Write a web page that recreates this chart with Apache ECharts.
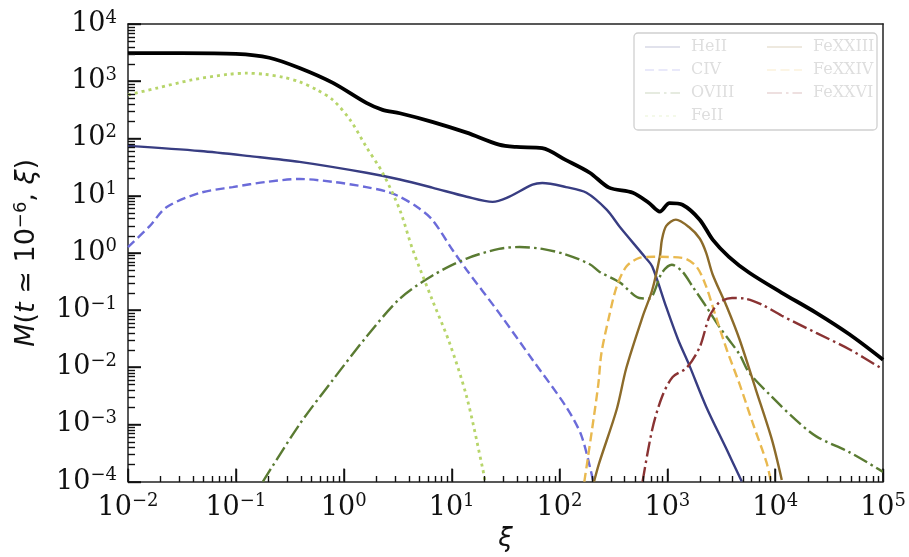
<!DOCTYPE html>
<html><head><meta charset="utf-8">
<script src="https://cdn.jsdelivr.net/npm/echarts@6/dist/echarts.min.js"></script>
<style>html,body{margin:0;padding:0;background:#fff}#c{width:909px;height:557px;background:#fff}</style>
</head><body><div id="c"></div>
<script>
// ---- data (xi, M) ----
const totalXi = [0.01, 0.0316, 0.1, 0.204, 0.389, 0.794, 1.62, 2.29, 3.31, 6.61, 13.8, 27.5, 39.8, 69.2, 115, 191, 288, 479, 676, 851, 1047, 1380, 1995, 2630, 3720, 5750, 11500, 24000, 49000, 100000];
const totalM  = [3090, 3090, 3000, 2570, 1700, 933, 417, 316, 275, 195, 126, 77.6, 70.8, 67.6, 41.7, 25.1, 13.8, 11.2, 7.41, 5.25, 7.41, 6.92, 3.80, 1.70, 0.851, 0.447, 0.200, 0.0891, 0.0372, 0.0135];

const heiiXi = [0.01, 0.0468, 0.135, 0.389, 1.62, 3.31, 6.61, 13.8, 24.0, 32.4, 56.2, 69.2, 115, 178, 275, 363, 617, 724, 977, 1259, 1585, 2290, 3550, 4900];
const heiiM  = [74.1, 60.3, 49.0, 38.9, 25.1, 19.1, 13.8, 9.55, 7.76, 9.12, 15.5, 16.6, 14.1, 11.2, 5.62, 2.82, 0.851, 0.575, 0.112, 0.0302, 0.0112, 0.00204, 0.000363, 0.0001];

const civXi = [0.01, 0.0158, 0.0229, 0.0468, 0.0933, 0.195, 0.389, 0.794, 1.62, 2.51, 3.31, 4.79, 6.61, 10.2, 13.8, 27.5, 56.2, 115, 160, 204];
const civM  = [1.26, 2.9, 6.31, 11.2, 14.1, 17.4, 19.5, 17.4, 14.1, 11.7, 9.55, 6.31, 3.80, 1.12, 0.501, 0.0891, 0.0135, 0.00204, 0.00063, 0.000107];

const oviiiXi = [0.178, 0.389, 0.794, 1.62, 3.31, 6.61, 13.8, 27.5, 42.7, 69.2, 115, 191, 234, 363, 550, 676, 891, 1100, 1380, 1700, 2290, 3020, 3720, 4680, 5750, 9330, 15500, 24000, 49000, 100000];
const oviiiM  = [0.0001, 0.001, 0.00603, 0.0339, 0.158, 0.398, 0.794, 1.17, 1.26, 1.17, 0.933, 0.631, 0.468, 0.302, 0.162, 0.158, 0.447, 0.617, 0.468, 0.263, 0.115, 0.0513, 0.0302, 0.0166, 0.00794, 0.00302, 0.0012, 0.000617, 0.000324, 0.000148];

const feiiXi = [0.01, 0.0186, 0.0389, 0.0851, 0.126, 0.186, 0.275, 0.389, 0.562, 0.794, 1.15, 1.62, 2.29, 3.31, 4.37, 6.61, 9.55, 13.8, 19.5, 20.4];
const feiiM  = [575, 759, 1050, 1320, 1380, 1320, 1170, 977, 708, 468, 209, 70.8, 25.1, 5.62, 1.12, 0.151, 0.0269, 0.00302, 0.000162, 0.0001];

const fe23Xi = [209, 234, 339, 417, 589, 724, 851, 891, 977, 1200, 1585, 1995, 2290, 2630, 3550, 4680, 6610, 9330, 11500];
const fe23M  = [0.0001, 0.000214, 0.00182, 0.00977, 0.0759, 0.224, 0.851, 1.70, 2.95, 3.80, 2.82, 1.78, 1.0, 0.417, 0.115, 0.0302, 0.00407, 0.000537, 0.000107];

const fe24Xi = [170, 200, 229, 245, 288, 339, 417, 550, 741, 1380, 1860, 2290, 2820, 3550, 4680, 6170, 8320, 9120];
const fe24M  = [0.0001, 0.000794, 0.00501, 0.0178, 0.0759, 0.257, 0.575, 0.813, 0.851, 0.813, 0.575, 0.257, 0.0759, 0.0204, 0.00501, 0.00107, 0.000214, 0.0001];

const fe26Xi = [589, 724, 891, 1120, 1510, 1995, 2450, 3020, 3980, 5250, 7590, 11500, 24000, 49000, 100000];
const fe26M  = [0.0001, 0.000813, 0.00302, 0.00676, 0.00977, 0.0224, 0.0759, 0.135, 0.162, 0.158, 0.123, 0.0794, 0.0398, 0.0204, 0.00912];

const xMin = 1e-2, xMax = 1e5, yMin = 1e-4, yMax = 1e4;
const xDecades = [-2, -1, 0, 1, 2, 3, 4, 5];
const yDecades = [-4, -3, -2, -1, 0, 1, 2, 3, 4];
const minorMult = [2, 3, 4, 5, 6, 7, 8, 9];

// ---- layout / style constants ----
const G = { left: 128, right: 25, top: 24, bottom: 75 };
const W = 909, H = 557;
const pxPerDecX = (W - G.left - G.right) / (Math.log10(xMax) - Math.log10(xMin));
const pxPerDecY = (H - G.top - G.bottom) / (Math.log10(yMax) - Math.log10(yMin));

// ---- build ----
const zip = (a, b) => a.map((v, i) => [v, b[i]]);
const serif = 'DejaVu Serif';
const sup = v => { const e = Math.round(Math.log10(v)); return '{b|10}{s|' + (e < 0 ? '\u2212' + (-e) : e) + '}'; };
const tickRich = {
  b: { fontFamily: serif, fontSize: 27, color: '#111' },
  s: { fontFamily: serif, fontSize: 18, color: '#111', verticalAlign: 'top', padding: [0, 0, 12, 0] }
};

function line(name, xi, m, color, width, type) {
  return {
    name, type: 'line', data: zip(xi, m), showSymbol: false, symbol: 'none',
    smooth: 0.3, animation: false,
    lineStyle: { color, width, type: type || 'solid' }, itemStyle: { color },
    emphasis: { disabled: true }
  };
}

// tick list: value + length in px
const xTicks = [], yTicks = [];
xDecades.forEach(d => {
  const v = Math.pow(10, d);
  xTicks.push([v, 13]);
  if (d < 5) minorMult.forEach(m => xTicks.push([m * v, 6]));
});
yDecades.forEach(d => {
  const v = Math.pow(10, d);
  yTicks.push([v, 13]);
  if (d < 4) minorMult.forEach(m => yTicks.push([m * v, 7]));
});

const chart = echarts.init(document.getElementById('c'), null, { renderer: 'canvas' });
const dashed = [9, 4.5], dashdot = [15, 4, 2.5, 4], dotted = [3, 4];
const legendCommon = () => ({ orient: 'vertical', top: 34, itemWidth: 35, itemHeight: 14, itemGap: 7, z: 10, selectedMode: false,
  itemStyle: { opacity: 0 },
  textStyle: { fontFamily: serif, fontSize: 16, color: '#222', padding: [0, 0, 0, 6] } });
const spine = () => ({ show: true, lineStyle: { color: '#222', width: 1.5 } });
chart.setOption({
  animation: false,
  grid: G,
  xAxis: [{
    type: 'log', min: xMin, max: xMax, interval: 1,
    name: 'ξ', nameLocation: 'middle', nameGap: 42,
    nameTextStyle: { fontFamily: 'DejaVu Sans', fontStyle: 'italic', fontSize: 26, color: '#111' },
    axisLine: spine(),
    axisTick: { show: true, inside: true, length: 13, lineStyle: { color: '#111', width: 1.5 } },
    axisLabel: { formatter: sup, rich: tickRich, margin: 11 },
    splitLine: { show: false }
  }, {
    type: 'log', position: 'top', min: xMin, max: xMax, interval: 1,
    axisLine: spine(), axisTick: { show: false }, axisLabel: { show: false }, splitLine: { show: false }
  }],
  yAxis: [{
    type: 'log', min: yMin, max: yMax, interval: 1,
    name: '{i|M}{r|(}{i|t}{r| ≃ 10}{s|\u22126}{r|, }{i|ξ}{r|)}', nameLocation: 'middle', nameGap: 86, nameRotate: 90,
    nameTextStyle: { rich: {
      i: { fontFamily: 'DejaVu Sans', fontStyle: 'italic', fontSize: 27, color: '#111' },
      r: { fontFamily: 'DejaVu Sans', fontSize: 27, color: '#111' },
      s: { fontFamily: 'DejaVu Sans', fontSize: 18, color: '#111', verticalAlign: 'top', padding: [0, 0, 12, 0] }
    } },
    axisLine: spine(),
    axisTick: { show: true, inside: true, length: 13, lineStyle: { color: '#111', width: 1.5 } },
    axisLabel: { formatter: sup, rich: tickRich, margin: 11 },
    splitLine: { show: false }
  }, {
    type: 'log', position: 'right', min: yMin, max: yMax, interval: 1,
    axisLine: spine(), axisTick: { show: false }, axisLabel: { show: false }, splitLine: { show: false }
  }],
  legend: [
    Object.assign({ data: ['HeII', 'CIV', 'OVIII', 'FeII'], left: 639 }, legendCommon()),
    Object.assign({ data: ['FeXXIII', 'FeXXIV', 'FeXXVI'], left: 761 }, legendCommon())
  ],
  series: [
    line('total', totalXi, totalM, '#000000', 3.8),
    line('HeII', heiiXi, heiiM, '#383d82', 2.4),
    line('CIV', civXi, civM, '#6b6bd9', 2.4, dashed),
    line('OVIII', oviiiXi, oviiiM, '#5a7b32', 2.4, dashdot),
    line('FeII', feiiXi, feiiM, '#b7d56a', 2.8, dotted),
    line('FeXXIII', fe23Xi, fe23M, '#8c6b2a', 2.4),
    line('FeXXIV', fe24Xi, fe24M, '#e9b94f', 2.4, dashed),
    line('FeXXVI', fe26Xi, fe26M, '#8a3333', 2.4, dashdot)
  ]
});

// legend frame + log ticks as graphic lines, placed on the axes' log scale
function px(v, axis) {
  let p = null;
  try { p = chart.convertToPixel(axis === 'x' ? { xAxisIndex: 0 } : { yAxisIndex: 0 }, v); } catch (e) { p = null; }
  if (typeof p !== 'number' || !isFinite(p)) {
    p = axis === 'x'
      ? G.left + pxPerDecX * (Math.log10(v) - Math.log10(xMin))
      : (H - G.bottom) - pxPerDecY * (Math.log10(v) - Math.log10(yMin));
  }
  return p;
}
const gfx = [{ type: 'rect', z: 50, shape: { x: 634, y: 33, width: 243, height: 97, r: 4 }, style: { fill: 'rgba(255,255,255,0.85)', stroke: '#d0d0d0', lineWidth: 1.3 } }];
const x0 = G.left, y0 = H - G.bottom;
xTicks.forEach(([v, len]) => {
  const x = Math.round(px(v, 'x')) + 0.5;
  gfx.push({ type: 'line', z: 100, shape: { x1: x, y1: y0, x2: x, y2: y0 - len }, style: { stroke: '#111', lineWidth: 1.4, fill: null } });
});
yTicks.forEach(([v, len]) => {
  const y = Math.round(px(v, 'y')) + 0.5;
  gfx.push({ type: 'line', z: 100, shape: { x1: x0, y1: y, x2: x0 + len, y2: y }, style: { stroke: '#111', lineWidth: 1.4, fill: null } });
});
chart.setOption({ graphic: { elements: gfx } });
</script></body></html>
